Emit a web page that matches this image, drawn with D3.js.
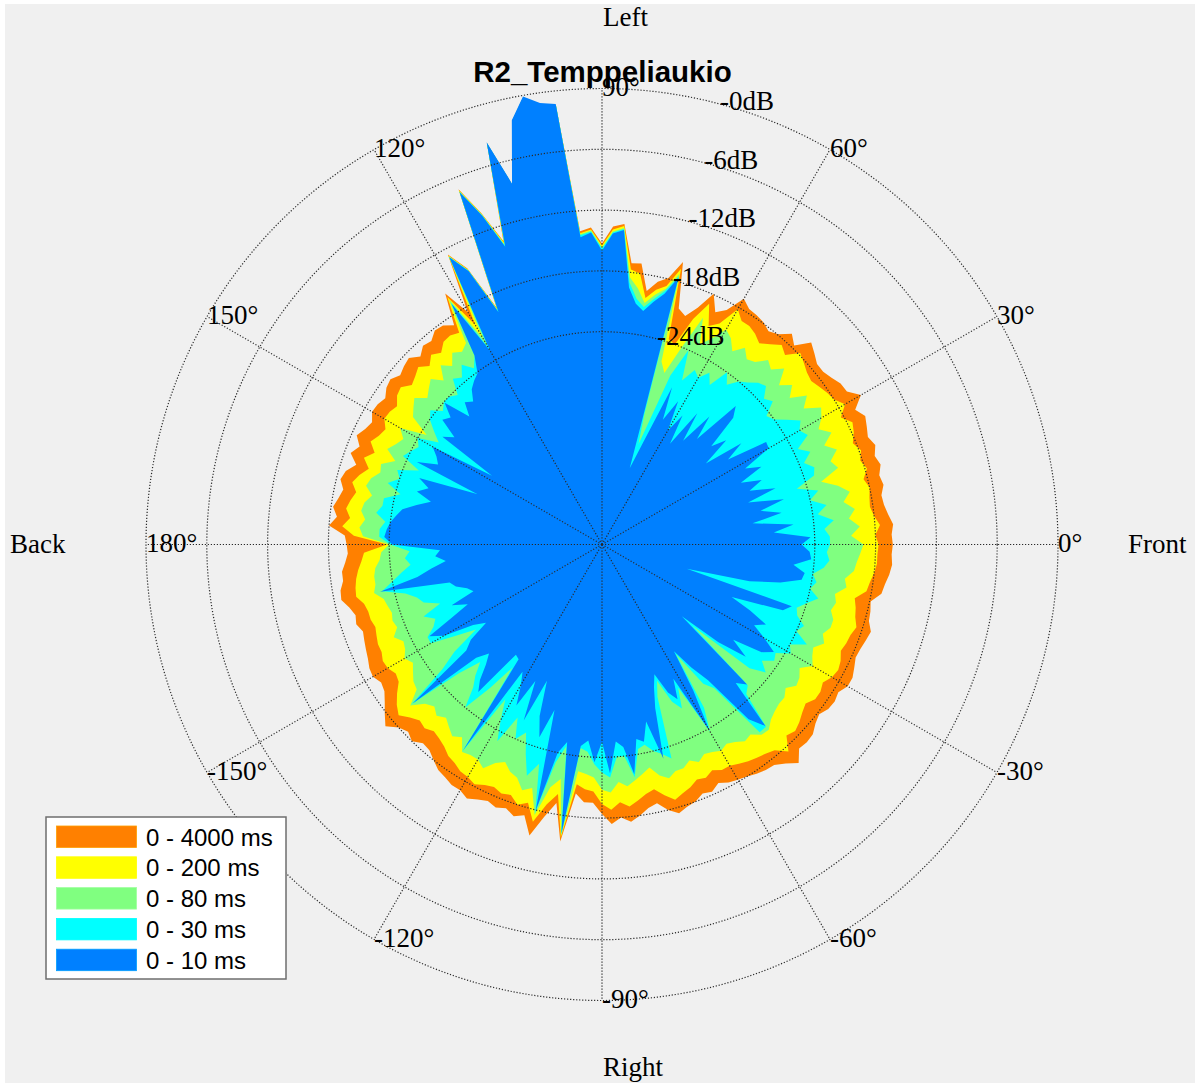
<!DOCTYPE html>
<html>
<head>
<meta charset="utf-8">
<script src="https://cdn.jsdelivr.net/npm/d3@7"></script>
<style>
  html, body { margin: 0; padding: 0; background: #ffffff; }
  svg { display: block; }
</style>
</head>
<body>
<svg id="chart" width="1200" height="1086"></svg>
<script>
// Directional energy (dB, normalised to the peak) measured every 2 degrees,
// counter-clockwise from the front (0 deg) through left (90 deg).
const angleStepDeg = 2;

const level4000ms = [
  -16.3,-16.4,-16.2,-16.6,-16.9, -17.0,-16.6,-16.8,-16.4,-16.7,
  -16.3,-16.7,-16.4,-16.1,-16.7, -15.5,-16.5,-16.6,-17.0,-17.3,
  -17.3,-16.8,-16.3,-17.7,-17.0, -17.9,-18.3,-17.9,-17.7,-17.6,
  -17.0,-18.8,-19.5,-17.9,-19.8, -21.0,-20.5,-16.0,-17.9,-18.5,
  -19.6,-17.0,-17.1,-13.3,-13.6, -15.3,-13.7,-14.0,-1.4,-1.1,
  -0.2,-2.3,-8.4,-3.8,-13.5, -10.2,-7.2,-19.4,-14.7,-12.6,
  -18.5,-15.8,-18.9,-18.3,-18.2, -18.8,-18.6,-19.2,-18.5,-18.7,
  -19.0,-18.5,-18.7,-19.2,-18.9, -18.8,-19.3,-19.0,-18.5,-19.2,
  -18.6,-19.5,-18.7,-18.4,-18.9, -18.6,-18.2,-18.7,-18.0,-19.6,
  -19.8,-19.9,-19.6,-19.2,-19.2, -18.8,-18.7,-19.3,-19.7,-19.5,
  -19.9,-19.7,-19.5,-19.3,-19.0, -18.9,-19.3,-19.1,-18.5,-17.8,
  -17.1,-18.0,-18.4,-18.0,-18.6, -18.5,-18.0,-17.5,-17.3,-17.0,
  -17.0,-16.6,-17.0,-17.3,-17.0, -17.3,-16.8,-17.2,-15.4,-17.5,
  -19.1,-15.4,-20.3,-19.5,-19.5, -18.4,-17.4,-18.0,-17.5,-18.0,
  -18.6,-18.9,-18.0,-17.4,-17.8, -18.0,-18.5,-18.3,-18.8,-18.4,
  -18.2,-18.0,-17.7,-17.5,-17.4, -16.8,-16.0,-17.0,-16.9,-17.0,
  -17.5,-17.8,-17.4,-17.3,-17.5, -17.0,-17.0,-17.3,-17.6,-17.5,
  -17.3,-17.1,-17.6,-17.7,-17.9, -17.0,-16.8,-16.5,-16.3,-16.4
];

const level200ms = [
  -17.7,-18.0,-17.5,-18.0,-18.3, -18.2,-18.0,-18.4,-17.8,-18.2,
  -17.8,-18.3,-17.8,-17.5,-18.3, -17.3,-18.0,-18.2,-18.5,-18.8,
  -18.6,-18.2,-17.8,-19.0,-18.5, -19.2,-19.8,-19.3,-19.0,-19.0,
  -18.2,-20.3,-21.0,-19.0,-21.0, -24.0,-23.7,-16.7,-18.7,-19.3,
  -20.3,-18.0,-17.7,-13.5,-13.9, -15.5,-13.9,-14.2,-1.4,-1.1,
  -0.2,-2.3,-8.4,-3.8,-13.7, -10.3,-7.3,-19.6,-14.8,-12.7,
  -20.0,-16.2,-19.8,-19.5,-19.6, -20.3,-19.8,-20.5,-19.8,-20.2,
  -20.5,-19.8,-20.0,-20.6,-20.3, -20.2,-20.8,-20.5,-20.0,-20.8,
  -20.0,-20.8,-20.1,-19.6,-20.2, -19.8,-19.5,-20.0,-19.3,-20.5,
  -23.8,-21.5,-21.2,-20.8,-20.5, -20.3,-20.2,-20.8,-21.0,-21.0,
  -21.2,-21.0,-20.8,-20.8,-20.5, -20.6,-21.0,-20.8,-20.0,-19.3,
  -18.8,-19.5,-20.0,-19.8,-20.2, -20.0,-19.7,-19.2,-19.0,-18.6,
  -18.5,-18.2,-18.6,-18.8,-18.5, -18.7,-18.0,-18.5,-16.8,-18.8,
  -20.0,-15.8,-21.2,-20.8,-20.6, -19.4,-18.8,-19.5,-19.0,-19.5,
  -20.0,-20.3,-19.5,-18.8,-19.2, -19.5,-20.0,-19.8,-20.2,-19.8,
  -19.8,-19.5,-19.2,-19.0,-18.8, -18.5,-17.5,-18.8,-18.5,-18.8,
  -19.2,-19.5,-19.0,-19.0,-19.3, -18.8,-18.6,-18.8,-19.2,-19.0,
  -18.9,-18.6,-19.0,-19.2,-19.5, -18.5,-18.3,-18.0,-17.8,-17.8
];

const level80ms = [
  -19.2,-20.4,-19.5,-20.5,-19.8, -20.8,-20.0,-21.0,-22.5,-20.5,
  -21.0,-20.0,-21.0,-19.8,-20.8, -20.0,-19.5,-21.0,-20.0,-21.5,
  -20.5,-21.5,-20.0,-21.0,-20.5, -21.5,-21.8,-21.0,-22.0,-21.0,
  -20.5,-22.0,-23.0,-20.5,-24.0, -27.0,-26.0,-17.2,-19.0,-19.8,
  -20.8,-19.5,-18.5,-13.7,-14.1, -15.7,-14.0,-14.3,-1.4,-1.1,
  -0.2,-2.3,-8.4,-3.8,-13.85, -10.4,-7.4,-19.7,-14.9,-12.8,
  -21.5,-16.5,-21.0,-21.5,-21.0, -22.0,-21.2,-22.5,-21.5,-22.0,
  -22.5,-21.5,-22.0,-22.5,-24.6, -22.0,-22.8,-22.4,-21.8,-23.0,
  -21.8,-22.0,-21.3,-21.0,-21.8, -21.2,-21.0,-21.5,-21.0,-21.4,
  -24.0,-23.2,-23.0,-22.5,-22.3, -22.3,-22.0,-22.8,-23.0,-23.2,
  -23.0,-23.2,-22.5,-23.2,-23.0, -22.5,-23.0,-22.5,-22.0,-21.8,
  -20.3,-21.5,-22.0,-21.5,-22.0, -21.5,-21.0,-21.5,-20.3,-20.5,
  -20.5,-20.0,-21.0,-21.5,-20.8, -20.5,-19.5,-20.0,-17.5,-20.5,
  -21.5,-16.0,-22.5,-22.3,-22.0, -20.8,-20.5,-21.5,-21.0,-21.5,
  -22.0,-22.5,-21.5,-21.0,-21.5, -21.5,-22.0,-21.5,-22.0,-21.8,
  -21.5,-21.8,-21.5,-21.0,-21.2, -20.5,-20.4,-21.0,-21.3,-21.5,
  -21.5,-22.0,-21.3,-21.5,-22.0, -21.0,-21.5,-21.8,-21.0,-21.5,
  -21.0,-21.0,-21.5,-21.2,-21.5, -20.5,-20.8,-20.0,-19.8,-19.5
];

const level30ms = [
  -22.5,-22.5,-23.0,-22.0,-23.5, -22.5,-24.0,-23.0,-25.0,-23.0,
  -22.7,-23.5,-22.5,-23.5,-22.0, -22.5,-21.9,-23.0,-24.0,-24.4,
  -23.0,-23.5,-22.5,-22.8,-23.5, -24.0,-25.0,-24.0,-26.0,-25.0,
  -26.0,-25.5,-27.0,-24.0,-27.0, -34.5,-31.5,-17.5,-19.2,-20.2,
  -21.2,-20.5,-19.0,-13.8,-14.2, -15.8,-14.1,-14.4,-1.4,-1.1,
  -0.2,-2.3,-8.4,-3.8,-14.0, -10.45,-7.45,-19.8,-14.95,-12.85,
  -22.5,-16.8,-22.5,-23.5,-22.5, -23.5,-23.0,-24.5,-24.0,-24.0,
  -24.5,-23.5,-24.0,-25.0,-26.0, -24.0,-24.5,-24.0,-23.5,-25.5,
  -23.5,-24.0,-23.0,-24.5,-23.0, -23.0,-22.5,-23.5,-23.0,-23.0,
  -24.1,-26.0,-25.5,-26.0,-25.0, -24.0,-22.8,-25.0,-26.0,-26.5,
  -28.0,-26.0,-27.0,-26.5,-25.5, -25.5,-28.0,-30.0,-27.0,-25.0,
  -20.5,-26.0,-28.3,-27.0,-26.0, -24.0,-27.0,-30.0,-20.4,-27.0,
  -25.0,-23.0,-26.0,-24.0,-25.0, -23.0,-21.0,-22.5,-17.8,-23.0,
  -24.8,-16.1,-24.8,-24.5,-23.3, -22.5,-22.0,-24.0,-24.0,-21.8,
  -24.5,-24.8,-24.0,-23.5,-22.8, -29.0,-30.5,-28.0,-27.0,-29.0,
  -23.7,-26.0,-32.0,-28.0,-27.0, -20.8,-20.8,-24.5,-25.0,-33.0,
  -26.0,-24.5,-25.5,-24.5,-24.8, -23.5,-24.0,-22.5,-24.0,-23.5,
  -24.5,-24.8,-24.0,-23.0,-24.0, -23.5,-24.0,-23.0,-22.5,-22.8
];

const level10ms = [
  -25.3,-24.4,-28.0,-26.0,-30.0, -27.0,-29.0,-26.5,-30.0,-27.0,
  -29.5,-28.0,-30.0,-27.5,-29.0, -26.0,-25.9,-30.0,-28.0,-32.0,
  -29.0,-30.5,-27.0,-26.0,-31.0, -28.5,-32.0,-29.0,-33.0,-30.0,
  -32.0,-29.0,-31.3,-28.0,-34.0, -37.0,-32.5,-17.6,-19.5,-20.5,
  -21.6,-21.0,-19.5,-13.9,-14.3, -16.0,-14.2,-14.6,-1.3,-1.0,
  -0.1,-2.2,-8.3,-3.7,-14.1, -10.5,-7.5,-19.9,-15.0,-12.9,
  -22.9,-17.0,-22.5,-24.1,-24.5, -25.0,-26.0,-25.5,-26.8,-24.1,
  -25.5,-25.0,-27.0,-26.0,-32.2, -25.7,-26.5,-27.0,-25.0,-31.7,
  -25.8,-27.0,-26.0,-27.6,-26.3, -25.0,-24.5,-24.0,-23.7,-23.5,
  -24.3,-29.0,-28.5,-29.5,-28.0, -26.5,-22.6,-29.5,-30.0,-31.0,
  -31.5,-29.0,-30.5,-28.5,-25.7, -27.0,-30.0,-31.2,-29.0,-28.0,
  -20.6,-28.3,-29.5,-28.5,-27.0, -26.0,-31.2,-31.0,-20.5,-30.2,
  -29.0,-27.0,-30.0,-26.0,-30.5, -27.0,-25.0,-28.0,-17.9,-24.0,
  -25.2,-16.2,-25.0,-25.6,-23.5, -25.5,-22.4,-25.5,-24.9,-22.1,
  -25.5,-25.1,-27.0,-23.0,-28.0, -30.0,-31.2,-29.0,-28.0,-30.0,
  -23.8,-28.0,-32.3,-30.0,-28.0, -22.5,-20.9,-26.0,-25.1,-34.4,
  -30.0,-27.0,-29.0,-26.0,-25.0, -26.5,-28.0,-27.0,-29.0,-31.2,
  -26.0,-25.3,-36.3,-30.0,-27.0, -25.0,-24.8,-26.0,-24.3,-24.5
];

const seriesNames  = ["0 - 4000 ms", "0 - 200 ms", "0 - 80 ms", "0 - 30 ms", "0 - 10 ms"];
const seriesColors = ["#ff8000", "#ffff00", "#80ff80", "#00ffff", "#0080ff"];
const seriesValues = [level4000ms, level200ms, level80ms, level30ms, level10ms];

const rTicks = [-24, -18, -12, -6, 0];
const rTickLabels = ["-24dB", "-18dB", "-12dB", "-6dB", "-0dB"];
const thetaTicks = [0, 30, 60, 90, 120, 150, 180, 210, 240, 270, 300, 330];
const thetaTickLabels = ["0°", "30°", "60°", "90°", "120°", "150°", "180°", "-150°", "-120°", "-90°", "-60°", "-30°"];
const directionNames = ["Front", "Left", "Back", "Right"];
const chartTitle = "R2_Temppeliaukio";

// ---- layout ----
const W = 1200, H = 1086;
const cx = 602, cy = 544.5, R = 456;
const rAxisAngle = 75;          // where the dB labels sit
const serif = "'Liberation Serif', 'Times New Roman', serif";
const sans = "'Liberation Sans', Arial, Helvetica, sans-serif";
const gridColor = "#2a2a2a";

const svg = d3.select("#chart");
const rad = d => d * Math.PI / 180;
const rScale = d3.scaleLinear().domain([-45, 0]).range([0, R]);
const polar = (thetaDeg, r) => [r * Math.cos(rad(thetaDeg)), -r * Math.sin(rad(thetaDeg))];

// figure background
svg.append("rect").attr("x", 5).attr("y", 4).attr("width", W - 10).attr("height", H - 7)
  .attr("fill", "#f0f0f0");

const plot = svg.append("g").attr("transform", `translate(${cx},${cy})`);

// filled energy patches, widest window first
const radial = d3.lineRadial()
  .angle(d => rad(90 - d.theta))
  .radius(d => rScale(d.value))
  .curve(d3.curveLinearClosed);

const series = seriesNames.map((name, i) => ({
  name,
  color: seriesColors[i],
  points: seriesValues[i].map((v, k) => ({ theta: k * angleStepDeg, value: v }))
}));

plot.selectAll("path.patch").data(series).join("path")
  .attr("class", "patch")
  .attr("d", d => radial(d.points))
  .attr("fill", d => d.color)
  .attr("stroke", "none");

// dotted polar grid drawn over the patches
const grid = plot.append("g")
  .attr("fill", "none")
  .attr("stroke", gridColor)
  .attr("stroke-width", 1.2)
  .attr("stroke-dasharray", "1.2,1.8");

grid.selectAll("circle").data(rTicks).join("circle")
  .attr("r", d => rScale(d));

grid.selectAll("line").data(thetaTicks).join("line")
  .attr("x1", 0).attr("y1", 0)
  .attr("x2", d => polar(d, R)[0])
  .attr("y2", d => polar(d, R)[1]);

// angle labels, left-aligned at the rim
plot.selectAll("text.theta").data(thetaTicks).join("text")
  .attr("class", "theta")
  .attr("x", d => polar(d, R)[0])
  .attr("y", d => polar(d, R)[1])
  .attr("dy", "0.28em")
  .attr("font-family", serif)
  .attr("font-size", 27)
  .attr("fill", "#000")
  .text((d, i) => thetaTickLabels[i]);

// dB ring labels along the radial axis
plot.selectAll("text.rlab").data(rTicks).join("text")
  .attr("class", "rlab")
  .attr("x", d => polar(rAxisAngle, rScale(d))[0])
  .attr("y", d => polar(rAxisAngle, rScale(d))[1])
  .attr("dy", "0.22em")
  .attr("font-family", serif)
  .attr("font-size", 27)
  .attr("fill", "#000")
  .text((d, i) => rTickLabels[i]);

// direction names around the figure
const dirPos = [[1128, 544.5], [603, 17.5], [10, 544.5], [603, 1068]];
svg.selectAll("text.dir").data(directionNames).join("text")
  .attr("class", "dir")
  .attr("x", (d, i) => dirPos[i][0])
  .attr("y", (d, i) => dirPos[i][1])
  .attr("dy", "0.3em")
  .attr("font-family", serif)
  .attr("font-size", 27)
  .attr("fill", "#000")
  .text(d => d);

// title
svg.append("text")
  .attr("x", cx + 0.5).attr("y", 72)
  .attr("dy", "0.35em")
  .attr("text-anchor", "middle")
  .attr("font-family", sans)
  .attr("font-weight", "bold")
  .attr("font-size", 29.5)
  .attr("fill", "#000")
  .text(chartTitle);

// legend
const legend = svg.append("g").attr("transform", "translate(46,817)");
legend.append("rect")
  .attr("x", 0).attr("y", 0).attr("width", 240).attr("height", 162)
  .attr("fill", "#ffffff").attr("stroke", "#6e6e6e").attr("stroke-width", 1.5);

const rowStep = 30.8;
const rows = legend.selectAll("g.row").data(series).join("g")
  .attr("class", "row")
  .attr("transform", (d, i) => `translate(0,${9 + i * rowStep})`);
rows.append("rect")
  .attr("x", 10.5).attr("y", 0).attr("width", 80).attr("height", 21.5)
  .attr("fill", d => d.color)
  .attr("stroke", d => d3.color(d.color).brighter(0.6))
  .attr("stroke-width", 0.8);
rows.append("text")
  .attr("x", 100).attr("y", 11)
  .attr("dy", "0.36em")
  .attr("font-family", sans)
  .attr("font-size", 24)
  .attr("fill", "#000")
  .text(d => d.name);
</script>
</body>
</html>
